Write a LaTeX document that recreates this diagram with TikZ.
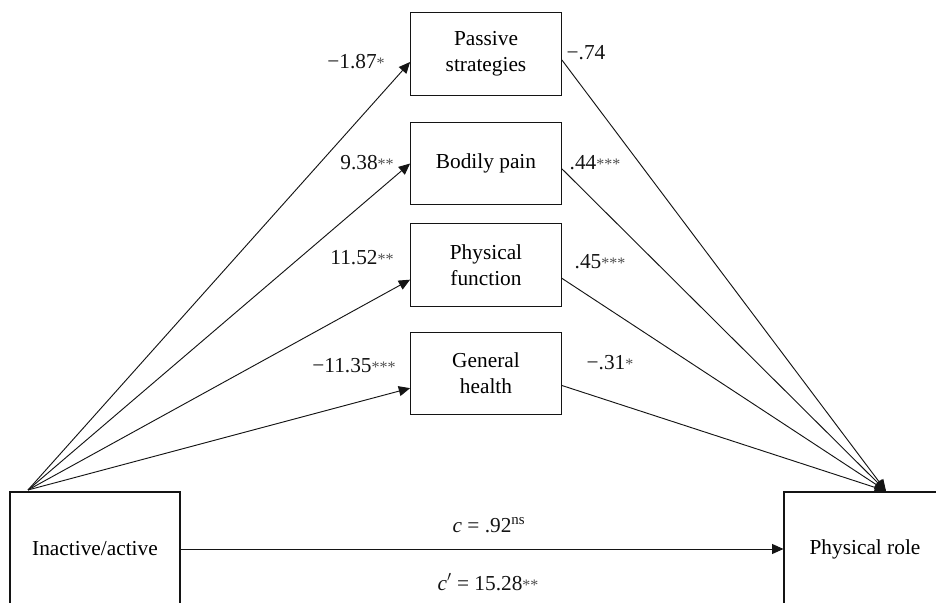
\documentclass[tikz,border=0pt]{standalone}
\usepackage{fontspec}
\setmainfont{Liberation Serif}
\usetikzlibrary{arrows.meta,positioning}
\definecolor{ink}{RGB}{20,20,20}
\tikzset{
  >={Triangle[length=8.5pt,width=7.5pt]},
  var/.style={draw=ink,line width=0.85pt,align=center,inner sep=0pt,
    font=\fontsize{16}{19.5}\selectfont},
  med/.style={var,minimum width=113pt,minimum height=62pt},
  path/.style={->,draw=ink,line width=0.7pt},
  coef/.style={font=\fontsize{16}{18}\selectfont,text=ink,inner sep=0pt},
}
\newcommand{\sig}[1]{{\fontsize{12}{12}\selectfont\color{ink!75}#1}}

\begin{document}
\begin{tikzpicture}[x=0.75pt,y=0.75pt]
  \useasboundingbox (0,0) rectangle (936,603);
  % predictor and outcome
  \node[var,minimum width=127.5pt,minimum height=85.5pt] (X) at (95,54) {Inactive/active};
  \node[var,minimum width=121.5pt,minimum height=85.5pt] (Y) at (865,54) {Physical role};
  % mediators
  \foreach \n/\t/\yy in {1/{Passive\\strategies}/549,2/{Bodily pain}/439.5,3/{Physical\\function}/338,4/{General\\health}/229.5}
    \node[med] (M\n) at (486,\yy) {\t};
  \coordinate (S) at (28,113);
  \coordinate (T) at (886,112);
  \foreach \i/\a/\b in {1/-6/-4.5,2/0/-4,3/-11/-10,4/-11/-9}{
    \draw[path] (S) -- ([yshift=\a pt]M\i.west);
    \draw[path] ([yshift=\b pt]M\i.east) -- (T);
  }
  \draw[path] (X) -- (Y);
  % coefficients
  \node[coef] (a1) at (356,541) {−1.87\sig{*}};
  \node[coef] (a2) at (367,440) {9.38\sig{**}};
  \node[coef] (a3) at (362,345) {11.52\sig{**}};
  \node[coef] (a4) at (354,237) {−11.35\sig{***}};
  \node[coef] (b1) at (586,550) {−.74};
  \node[coef] (b2) at (595,440) {.44\sig{***}};
  \node[coef] (b3) at (600,341) {.45\sig{***}};
  \node[coef] (b4) at (610,240) {−.31\sig{*}};
  \node[coef] (c) at (489,78) {\textit{c} = .92\textsuperscript{ns}};
  \node[coef] (cp) at (488,21) {\textit{c}$'$ = 15.28\sig{**}};
\end{tikzpicture}
\end{document}
